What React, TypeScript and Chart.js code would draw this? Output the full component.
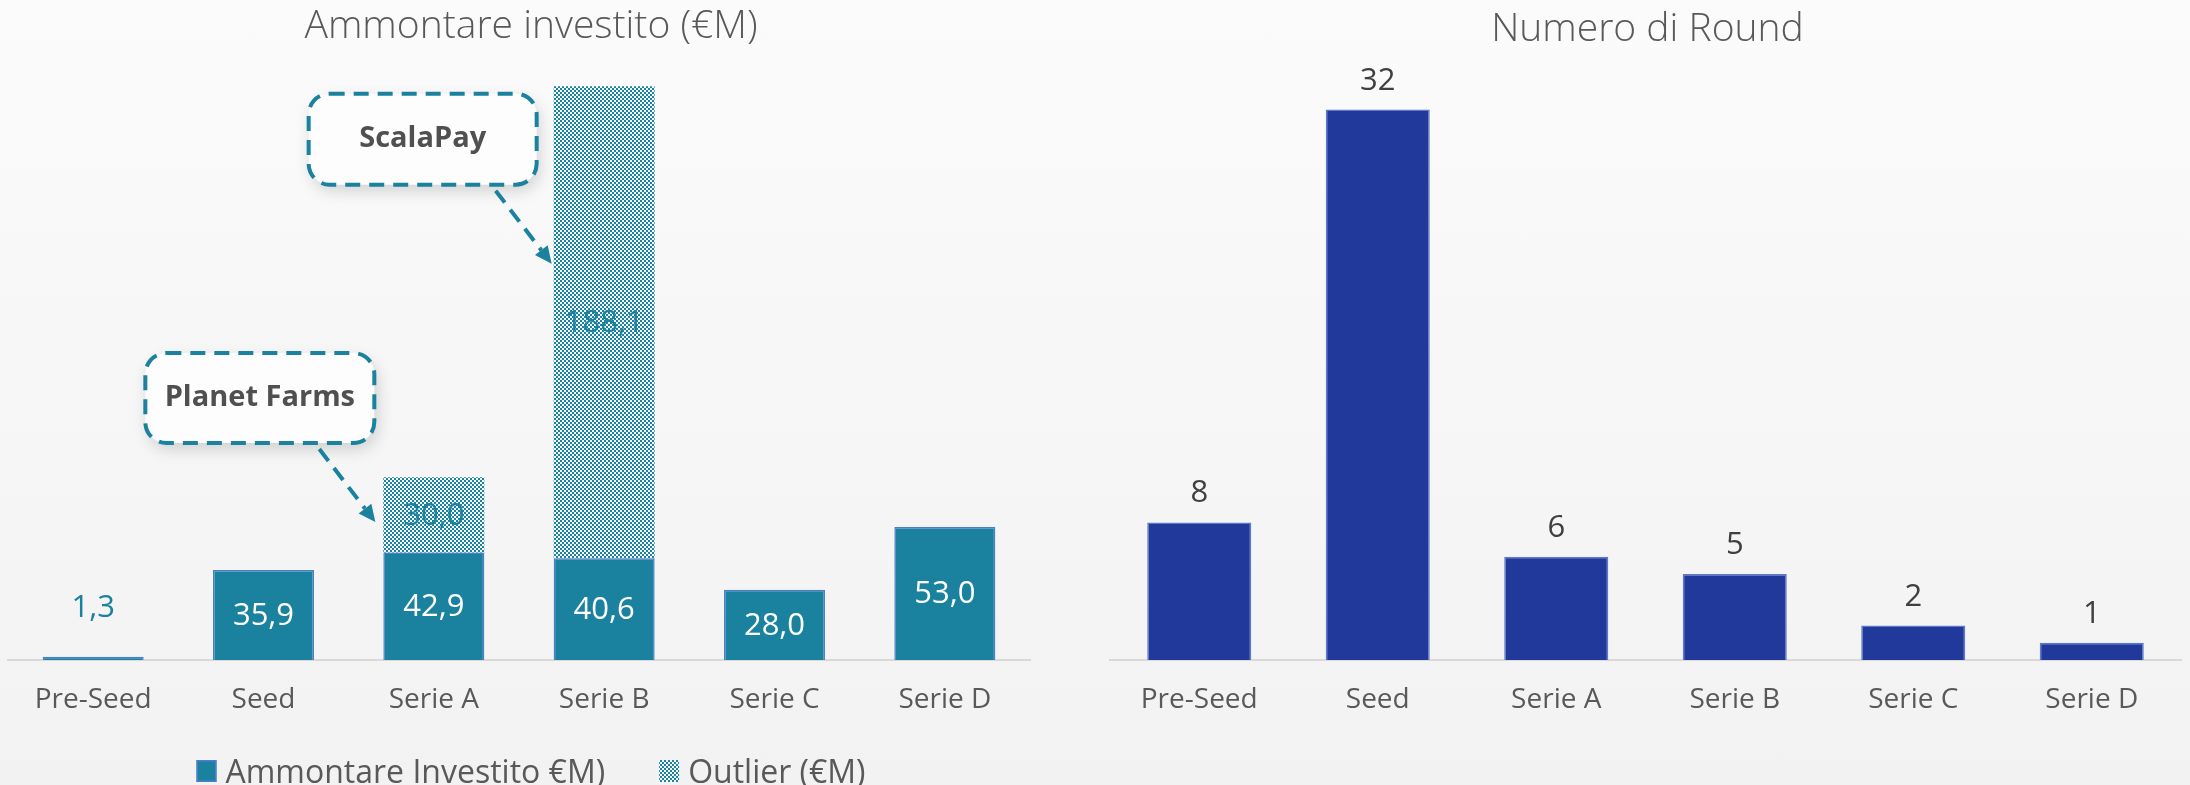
import React, { useEffect, useRef } from "react";
import { Chart, registerables } from "chart.js";

Chart.register(...registerables);

// ---------- data ----------
const CATEGORIES = ["Pre-Seed", "Seed", "Serie A", "Serie B", "Serie C", "Serie D"];
const INVESTED = [1.3, 35.9, 42.9, 40.6, 28.0, 53.0];
const OUTLIER = [null, null, 30.0, 188.1, null, null];
const ROUNDS = [8, 32, 6, 5, 2, 1];

const LEFT_TITLE = "Ammontare investito (€M)";
const RIGHT_TITLE = "Numero di Round";
const INVESTED_LABEL = "Ammontare Investito €M)";
const OUTLIER_LABEL = "Outlier (€M)";

const CALLOUT_TEXTS = ["Planet Farms", "ScalaPay"];
const CALLOUT_INDEX = [2, 3];
const CALLOUT_VALUE = [55, 158];

// ---------- styles ----------
const FONT = "'Open Sans', 'Noto Sans', sans-serif";
const TEAL = "#1a819f";
const TEAL_BORDER = "#4c7ecb";
const BLUE = "#21399b";
const BLUE_BORDER = "#5d79c9";
const GRAY_TEXT = "#595959";
const DARK_TEXT = "#404040";

const W = 2190;
const H = 785;
const HALF = 1095;

const CALLOUT_LAYOUT = [
  { gap: 8, dx: -230, dy: -169, w: 229, h: 90 },
  { gap: 2, dx: -243, dy: -170, w: 228, h: 91 },
];

const fmt = (v: number) => v.toFixed(1).replace(".", ",");

function makePattern(): CanvasPattern | string {
  const c = document.createElement("canvas");
  c.width = 4;
  c.height = 4;
  const g = c.getContext("2d");
  if (!g) return TEAL;
  g.fillStyle = "#f7fbfc";
  g.fillRect(0, 0, 4, 4);
  g.fillStyle = TEAL;
  g.fillRect(0, 0, 2, 2);
  g.fillRect(2, 2, 2, 2);
  const p = g.createPattern(c, "repeat");
  return p || TEAL;
}

function roundRectPath(ctx: CanvasRenderingContext2D, x: number, y: number, w: number, h: number, r: number) {
  ctx.beginPath();
  ctx.moveTo(x + r, y);
  ctx.lineTo(x + w - r, y);
  ctx.arcTo(x + w, y, x + w, y + r, r);
  ctx.lineTo(x + w, y + h - r);
  ctx.arcTo(x + w, y + h, x + w - r, y + h, r);
  ctx.lineTo(x + r, y + h);
  ctx.arcTo(x, y + h, x, y + h - r, r);
  ctx.lineTo(x, y + r);
  ctx.arcTo(x, y, x + r, y, r);
  ctx.closePath();
}

function xAxis() {
  return {
    grid: { display: false, drawTicks: false },
    border: { color: "#d9d9d9", width: 2 },
    ticks: { color: GRAY_TEXT, font: { family: FONT, size: 28 }, padding: 23 },
    afterFit: (scale: any) => {
      scale.height = 125;
    },
  };
}

export default function App() {
  const leftRef = useRef<HTMLCanvasElement>(null);
  const rightRef = useRef<HTMLCanvasElement>(null);

  useEffect(() => {
    if (!leftRef.current || !rightRef.current) return;
    const pattern = makePattern();

    const leftPlugin = {
      id: "leftDecor",
      afterDatasetsDraw(chart: any) {
        const ctx: CanvasRenderingContext2D = chart.ctx;
        ctx.save();
        ctx.font = `400 31px ${FONT}`;
        ctx.textAlign = "center";
        ctx.textBaseline = "middle";
        // main values
        chart.getDatasetMeta(0).data.forEach((el: any, i: number) => {
          const v = INVESTED[i];
          if (v == null) return;
          const { x, y, base } = el.getProps(["x", "y", "base"], true);
          if (base - y < 30) {
            ctx.fillStyle = TEAL;
            ctx.fillText(fmt(v), x, y - 49);
          } else {
            ctx.fillStyle = "#ffffff";
            ctx.fillText(fmt(v), x, (y + base) / 2 + 1);
          }
        });
        // outlier values
        chart.getDatasetMeta(1).data.forEach((el: any, i: number) => {
          const v = OUTLIER[i];
          if (v == null) return;
          const { x, y, base } = el.getProps(["x", "y", "base"], true);
          ctx.fillStyle = TEAL;
          ctx.fillText(fmt(v), x, (y + base) / 2 + 1);
        });
        ctx.restore();

        // callouts
        const meta = chart.getDatasetMeta(1);
        CALLOUT_TEXTS.forEach((text, k) => {
          const el = meta.data[CALLOUT_INDEX[k]];
          const { x, width } = el.getProps(["x", "width"], true);
          const L = CALLOUT_LAYOUT[k];
          const tx = x - width / 2 - L.gap;
          const ty = chart.scales.y.getPixelForValue(CALLOUT_VALUE[k]);
          const bx = tx + L.dx;
          const by = ty + L.dy;
          // box with shadow
          ctx.save();
          ctx.shadowColor = "rgba(0,0,0,0.16)";
          ctx.shadowBlur = 16;
          ctx.shadowOffsetX = 3;
          ctx.shadowOffsetY = 6;
          roundRectPath(ctx, bx, by, L.w, L.h, 21);
          ctx.fillStyle = "#fdfdfd";
          ctx.fill();
          ctx.restore();
          ctx.save();
          roundRectPath(ctx, bx, by, L.w, L.h, 21);
          ctx.setLineDash([15, 9]);
          ctx.lineWidth = 4;
          ctx.strokeStyle = TEAL;
          ctx.stroke();
          ctx.restore();
          // text
          ctx.save();
          ctx.font = `700 29px ${FONT}`;
          ctx.fillStyle = "#505050";
          ctx.textAlign = "center";
          ctx.textBaseline = "middle";
          ctx.fillText(text, bx + L.w / 2, by + L.h / 2);
          ctx.restore();
          // arrow
          const sx = tx - 56;
          const sy = ty - 73;
          const ang = Math.atan2(ty - sy, tx - sx);
          const headLen = 17;
          const headW = 8;
          const hx = tx - headLen * Math.cos(ang);
          const hy = ty - headLen * Math.sin(ang);
          ctx.save();
          ctx.strokeStyle = TEAL;
          ctx.fillStyle = TEAL;
          ctx.lineWidth = 4;
          ctx.setLineDash([15, 9]);
          ctx.beginPath();
          ctx.moveTo(sx, sy);
          ctx.lineTo(hx, hy);
          ctx.stroke();
          ctx.setLineDash([]);
          ctx.beginPath();
          ctx.moveTo(tx, ty);
          ctx.lineTo(hx - headW * Math.sin(ang), hy + headW * Math.cos(ang));
          ctx.lineTo(hx + headW * Math.sin(ang), hy - headW * Math.cos(ang));
          ctx.closePath();
          ctx.fill();
          ctx.restore();
        });
      },
      afterDraw(chart: any) {
        const ctx: CanvasRenderingContext2D = chart.ctx;
        const cx = 531;
        // title
        ctx.save();
        ctx.font = `300 39px ${FONT}`;
        ctx.fillStyle = GRAY_TEXT;
        ctx.textAlign = "center";
        ctx.textBaseline = "alphabetic";
        ctx.fillText(LEFT_TITLE, cx, 38);
        ctx.restore();
        // legend
        ctx.save();
        ctx.font = `400 32px ${FONT}`;
        const labels = chart.data.datasets.map((d: any) => d.label as string);
        const box = 20;
        const textGap = 9;
        const itemGap = 54;
        const widths = labels.map((l: string) => box + textGap + ctx.measureText(l).width);
        const total = widths.reduce((a: number, b: number) => a + b, 0) + itemGap * (labels.length - 1);
        let x = cx - total / 2;
        labels.forEach((l: string, i: number) => {
          const ds = chart.data.datasets[i];
          ctx.fillStyle = ds.backgroundColor;
          ctx.fillRect(x, 760, box, 22);
          if (i === 0) {
            ctx.strokeStyle = TEAL_BORDER;
            ctx.lineWidth = 1.5;
            ctx.strokeRect(x + 0.75, 760.75, box - 1.5, 20.5);
          }
          ctx.fillStyle = GRAY_TEXT;
          ctx.textAlign = "left";
          ctx.textBaseline = "alphabetic";
          ctx.fillText(l, x + box + textGap, 782.5);
          x += widths[i] + itemGap;
        });
        ctx.restore();
      },
    };

    const rightPlugin = {
      id: "rightDecor",
      afterDatasetsDraw(chart: any) {
        const ctx: CanvasRenderingContext2D = chart.ctx;
        ctx.save();
        ctx.font = `400 31px ${FONT}`;
        ctx.fillStyle = DARK_TEXT;
        ctx.textAlign = "center";
        ctx.textBaseline = "alphabetic";
        chart.getDatasetMeta(0).data.forEach((el: any, i: number) => {
          const { x, y } = el.getProps(["x", "y"], true);
          ctx.fillText(String(ROUNDS[i]), x, y - 20);
        });
        ctx.restore();
      },
      afterDraw(chart: any) {
        const ctx: CanvasRenderingContext2D = chart.ctx;
        const a = chart.chartArea;
        ctx.save();
        ctx.font = `300 39px ${FONT}`;
        ctx.fillStyle = GRAY_TEXT;
        ctx.textAlign = "center";
        ctx.textBaseline = "alphabetic";
        ctx.fillText(RIGHT_TITLE, (a.left + a.right) / 2 + 2, 41);
        ctx.restore();
      },
    };

    const left = new Chart(leftRef.current, {
      type: "bar",
      data: {
        labels: CATEGORIES,
        datasets: [
          {
            label: INVESTED_LABEL,
            data: INVESTED,
            backgroundColor: TEAL,
            borderColor: TEAL_BORDER,
            borderWidth: { top: 1.5, left: 1.5, right: 1.5, bottom: 0 },
            barPercentage: 0.593,
            categoryPercentage: 1,
          },
          {
            label: OUTLIER_LABEL,
            data: OUTLIER,
            backgroundColor: pattern as any,
            borderWidth: 0,
            barPercentage: 0.593,
            categoryPercentage: 1,
          },
        ],
      },
      options: {
        responsive: false,
        animation: false,
        devicePixelRatio: 1,
        events: [],
        layout: { padding: { left: 8, right: 65, top: 58, bottom: 0 } },
        plugins: { legend: { display: false }, title: { display: false }, tooltip: { enabled: false } },
        scales: {
          x: { ...xAxis(), stacked: true } as any,
          y: { display: false, stacked: true, min: 0, max: 240 },
        },
      },
      plugins: [leftPlugin],
    });

    const right = new Chart(rightRef.current, {
      type: "bar",
      data: {
        labels: CATEGORIES,
        datasets: [
          {
            label: RIGHT_TITLE,
            data: ROUNDS,
            backgroundColor: BLUE,
            borderColor: BLUE_BORDER,
            borderWidth: { top: 1.5, left: 1.5, right: 1.5, bottom: 0 },
            barPercentage: 0.583,
            categoryPercentage: 1,
          },
        ],
      },
      options: {
        responsive: false,
        animation: false,
        devicePixelRatio: 1,
        events: [],
        layout: { padding: { left: 15, right: 9, top: 58, bottom: 0 } },
        plugins: { legend: { display: false }, title: { display: false }, tooltip: { enabled: false } },
        scales: {
          x: xAxis() as any,
          y: { display: false, min: 0, max: 35 },
        },
      },
      plugins: [rightPlugin],
    });

    return () => {
      left.destroy();
      right.destroy();
    };
  }, []);

  return (
    <div
      style={{
        position: "fixed",
        left: 0,
        top: 0,
        width: W,
        height: H,
        background: "linear-gradient(to bottom, #fbfbfb 0%, #f2f2f2 100%)",
        overflow: "hidden",
      }}
    >
      <canvas ref={leftRef} width={HALF} height={H} style={{ position: "absolute", left: 0, top: 0, width: HALF, height: H }} />
      <canvas ref={rightRef} width={W - HALF} height={H} style={{ position: "absolute", left: HALF, top: 0, width: W - HALF, height: H }} />
    </div>
  );
}
